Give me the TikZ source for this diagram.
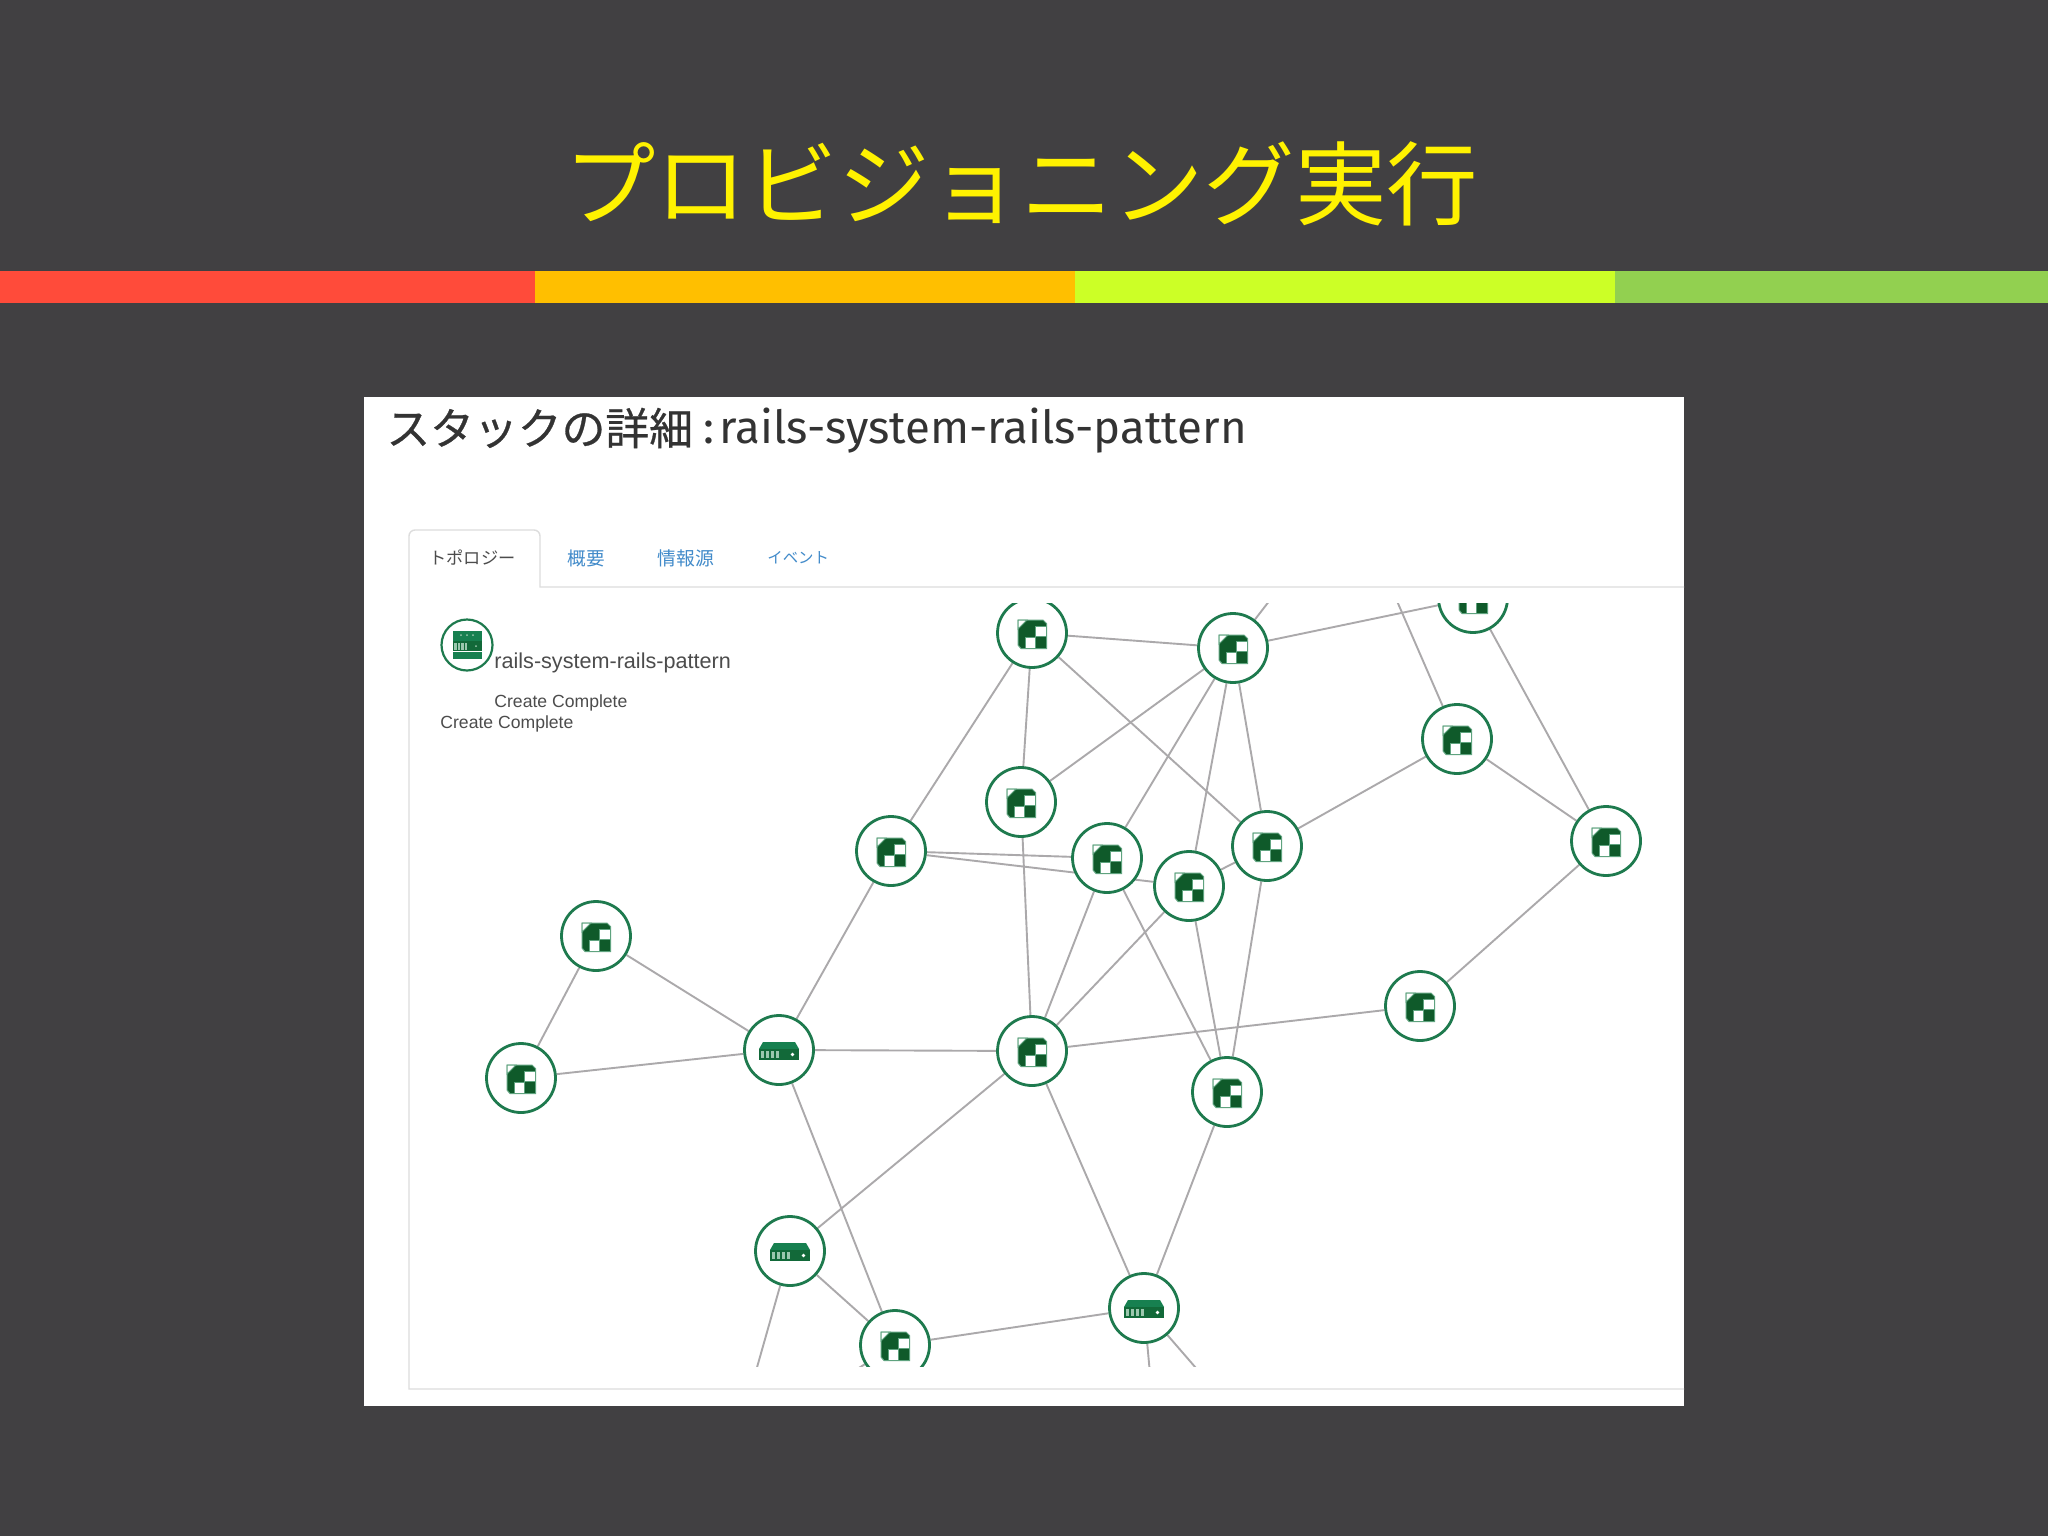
\documentclass[tikz,border=0pt]{standalone}
\usepackage{fontspec}
\usetikzlibrary{shapes.geometric}
\newfontfamily\cjk{Noto Sans CJK JP}
\newfontfamily\cjkhead[FakeBold=0.6]{Noto Sans CJK JP}
\newfontfamily\head{Fira Sans}
\setmainfont{Liberation Sans}
\definecolor{slidebg}{HTML}{414042}
\definecolor{barred}{HTML}{FF4B3A}
\definecolor{barorange}{HTML}{FFBF00}
\definecolor{barlime}{HTML}{CCFF26}
\definecolor{bargreen}{HTML}{92D050}
\definecolor{ringgreen}{HTML}{1E7A4E}
\definecolor{icondark}{HTML}{0F5A2A}
\definecolor{iconmid}{HTML}{178050}
\definecolor{iconpale}{HTML}{9CC7AE}
\definecolor{iconedge}{HTML}{5FA37F}
\definecolor{edgegray}{HTML}{ABA9AB}
\definecolor{panelline}{HTML}{DDDDDD}
\definecolor{tabblue}{HTML}{428BCA}
\definecolor{headtext}{HTML}{333333}
\pgfdeclarelayer{bg}
\pgfdeclarelayer{edges}
\pgfsetlayers{bg,edges,main}
\tikzset{
  x=0.5pt,y=-0.5pt,
  res/.style={circle,draw=ringgreen,fill=white,line width=1.4pt,minimum size=34.5pt,inner sep=0pt},
  link/.style={draw=edgegray,line width=0.95pt},
  pline/.style={draw=panelline,line width=0.7pt},
  lbl/.style={inner sep=0pt,anchor=west},
  cubeicon/.pic={
    \fill[icondark] (-14,-14) -- (11,-14) -- (14.5,-10.5) -- (14.5,14.5) -- (-11,14.5) -- (-14,11) -- cycle;
    \draw[iconedge,line width=0.5pt] (-14,-14) -- (11,-14) -- (14.5,-10.5) -- (14.5,14.5) -- (-11,14.5) -- (-14,11) -- cycle;
    \fill[white,draw=iconedge,line width=0.5pt] (3.5,-7.5) rectangle (14.5,2.8);
    \fill[white,draw=iconedge,line width=0.5pt] (-7,3.4) rectangle (3.3,14.5);
    \fill[white,draw=iconedge,line width=0.5pt] (-14,-14) -- (-5,-14) -- (-14,-5) -- cycle;
  },
  servericon/.pic={
    \fill[iconmid] (-16,-9) -- (16,-9) -- (20,-2) -- (-20,-2) -- cycle;
    \fill[icondark!60!iconmid] (-20,-2) rectangle (20,9);
    \foreach \sx in {-18,-13,-8,-3} \fill[iconpale] (\sx,0) rectangle ++(3,7);
    \fill[white] (13.5,3.5) circle (0.9pt);
  },
  stackicon/.pic={
    \fill[iconmid] (-14.5,-14) rectangle (14.5,-4);
    \foreach \sx in {-6,0,6} \fill[iconpale] (\sx,-10) circle (0.5pt);
    \fill[icondark!60!iconmid] (-14.5,-4) rectangle (14.5,6);
    \foreach \sx in {-13,-9.5,-6,-2.5} \fill[iconpale] (\sx,-2.5) rectangle ++(2.5,7);
    \fill[iconpale] (9,1) circle (0.5pt);
    \fill[iconmid] (-14.5,7) rectangle (14.5,14);
  }
}
\begin{document}
\begin{tikzpicture}
\useasboundingbox (0,0) rectangle (2048,1536);
\begin{pgfonlayer}{bg}
  \fill[slidebg] (0,0) rectangle (2048,1536);
  \fill[barred] (0,271) rectangle (535,303);
  \fill[barorange] (535,271) rectangle (1075,303);
  \fill[barlime] (1075,271) rectangle (1615,303);
  \fill[bargreen] (1615,271) rectangle (2048,303);
  \fill[white] (364,397) rectangle (1684,1406);
  \draw[pline] (1684,587) -- (540,587) -- (540,536) arc[start angle=0,end angle=-90,radius=6] -- (415,530) arc[start angle=-90,end angle=-180,radius=6] -- (409,1389) -- (1684,1389);
\end{pgfonlayer}

\node[inner sep=0pt,text=yellow,font=\cjk\fontsize{45.7}{54}\selectfont] (title) at (1021,184) {プロビジョニング実行};
\node[lbl,text=headtext,font=\cjkhead\fontsize{21.9}{24}\selectfont] (headjp) at (386,428) {スタックの詳細};
\node[lbl,text=headtext,font=\head\fontsize{22.8}{26}\selectfont] (headen) at (703,431) {:\hspace{2.5pt}rails-system-rails-pattern};
\node[lbl,text=black!70,font=\cjk\fontsize{8.6}{10}\selectfont] (tab1) at (429,558) {トポロジー};
\node[lbl,text=tabblue,font=\cjk\fontsize{9.3}{11}\selectfont] (tab2) at (567,558) {概要};
\node[lbl,text=tabblue,font=\cjk\fontsize{9.4}{11}\selectfont] (tab3) at (657,558) {情報源};
\node[lbl,text=tabblue,font=\cjk\fontsize{7.7}{9}\selectfont] (tab4) at (767,558) {イベント};

\node[circle,draw=ringgreen,fill=white,line width=1.1pt,minimum size=25.5pt,inner sep=0pt] (stack) at (467,645) {};
\pic at (stack) {stackicon};
\node[lbl,text=black!70,font=\fontsize{10.8}{12}\selectfont] (stackname) at (494,663) {rails-system-rails-pattern};
\node[lbl,text=black!70,font=\fontsize{8.8}{10}\selectfont] (st1) at (494,703) {Create Complete};
\node[lbl,text=black!70,font=\fontsize{8.8}{10}\selectfont] (st2) at (440,724) {Create Complete};

\begin{scope}
  \clip (400,603) rectangle (1684,1366);
  \node[res] (a) at (1032,633) {};
  \node[res] (b) at (1233,648) {};
  \node[res] (c) at (1473,598) {};
  \node[res] (d) at (1457,739) {};
  \node[res] (e) at (1606,841) {};
  \node[res] (f) at (1021,802) {};
  \node[res] (g) at (891,851) {};
  \node[res] (h) at (1107,858) {};
  \node[res] (i) at (1189,886) {};
  \node[res] (j) at (1267,846) {};
  \node[res] (k) at (596,936) {};
  \node[res] (l) at (521,1078) {};
  \node[res] (m) at (779,1050) {};
  \node[res] (n) at (1032,1051) {};
  \node[res] (o) at (1227,1092) {};
  \node[res] (p) at (1420,1006) {};
  \node[res] (q) at (790,1251) {};
  \node[res] (r) at (895,1345) {};
  \node[res] (s) at (1144,1308) {};
  \coordinate (t1) at (1280,587);
  \coordinate (t2) at (1390,585);
  \coordinate (t3) at (752,1385);
  \coordinate (t4) at (1151,1385);
  \coordinate (t5) at (1215,1390);
  \coordinate (t6) at (840,1380);
  \foreach \nn in {a,b,c,d,e,f,g,h,i,j,k,l,n,o,p,r}
    \pic at ([yshift=-0.5pt]\nn.center) {cubeicon};
  \foreach \nn in {m,q,s}
    \pic at ([yshift=-0.5pt]\nn.center) {servericon};
\end{scope}
\begin{pgfonlayer}{edges}
\begin{scope}
  \clip (400,603) rectangle (1684,1366);
  \foreach \u/\v in {a/b,a/g,a/f,a/j,b/f,b/h,b/i,b/j,b/c,c/e,d/e,d/j,e/p,f/n,g/h,g/i,g/m,h/n,h/o,i/n,i/o,i/j,j/o,k/l,k/m,l/m,m/n,m/r,n/p,n/q,n/s,o/s,q/r,r/s,b/t1,d/t2,q/t3,s/t4,s/t5,r/t6}
    \draw[link] (\u) -- (\v);
\end{scope}
\end{pgfonlayer}
\end{tikzpicture}
\end{document}
